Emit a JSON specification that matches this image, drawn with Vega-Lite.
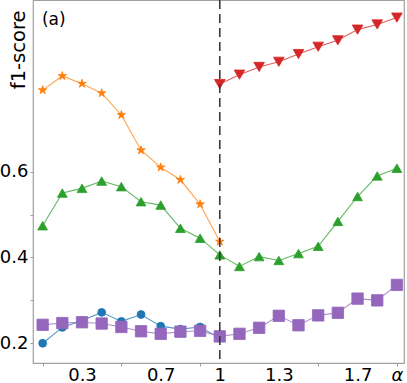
{
  "$schema": "https://vega.github.io/schema/vega-lite/v6.json",
  "width": 371,
  "height": 363,
  "autosize": {"type": "none"},
  "padding": {"left": 33, "top": 0, "right": 3, "bottom": 20},
  "config": {"view": {"stroke": "#a0a0a0", "strokeWidth": 1.2}, "font": "DejaVu Sans"},
  "datasets": {
    "main": [
      {"s": "s1", "a": 0.1, "f": 0.200}, {"s": "s1", "a": 0.2, "f": 0.237}, {"s": "s1", "a": 0.3, "f": 0.253}, {"s": "s1", "a": 0.4, "f": 0.272}, {"s": "s1", "a": 0.5, "f": 0.251},
      {"s": "s1", "a": 0.6, "f": 0.267}, {"s": "s1", "a": 0.7, "f": 0.240}, {"s": "s1", "a": 0.8, "f": 0.233}, {"s": "s1", "a": 0.9, "f": 0.238}, {"s": "s1", "a": 1.0, "f": 0.212},
      {"s": "s2", "a": 0.1, "f": 0.790}, {"s": "s2", "a": 0.2, "f": 0.823}, {"s": "s2", "a": 0.3, "f": 0.805}, {"s": "s2", "a": 0.4, "f": 0.783}, {"s": "s2", "a": 0.5, "f": 0.732},
      {"s": "s2", "a": 0.6, "f": 0.650}, {"s": "s2", "a": 0.7, "f": 0.610}, {"s": "s2", "a": 0.8, "f": 0.581}, {"s": "s2", "a": 0.9, "f": 0.524}, {"s": "s2", "a": 1.0, "f": 0.437},
      {"s": "s3", "a": 0.1, "f": 0.474}, {"s": "s3", "a": 0.2, "f": 0.550}, {"s": "s3", "a": 0.3, "f": 0.561}, {"s": "s3", "a": 0.4, "f": 0.578}, {"s": "s3", "a": 0.5, "f": 0.565},
      {"s": "s3", "a": 0.6, "f": 0.530}, {"s": "s3", "a": 0.7, "f": 0.522}, {"s": "s3", "a": 0.8, "f": 0.468}, {"s": "s3", "a": 0.9, "f": 0.445}, {"s": "s3", "a": 1.0, "f": 0.406},
      {"s": "s3", "a": 1.1, "f": 0.379}, {"s": "s3", "a": 1.2, "f": 0.402}, {"s": "s3", "a": 1.3, "f": 0.393}, {"s": "s3", "a": 1.4, "f": 0.409}, {"s": "s3", "a": 1.5, "f": 0.426},
      {"s": "s3", "a": 1.6, "f": 0.484}, {"s": "s3", "a": 1.7, "f": 0.542}, {"s": "s3", "a": 1.8, "f": 0.590}, {"s": "s3", "a": 1.9, "f": 0.608},
      {"s": "s4", "a": 1.0, "f": 0.804}, {"s": "s4", "a": 1.1, "f": 0.826}, {"s": "s4", "a": 1.2, "f": 0.844}, {"s": "s4", "a": 1.3, "f": 0.856}, {"s": "s4", "a": 1.4, "f": 0.874},
      {"s": "s4", "a": 1.5, "f": 0.891}, {"s": "s4", "a": 1.6, "f": 0.906}, {"s": "s4", "a": 1.7, "f": 0.931}, {"s": "s4", "a": 1.8, "f": 0.943}, {"s": "s4", "a": 1.9, "f": 0.959},
      {"s": "s5", "a": 0.1, "f": 0.243}, {"s": "s5", "a": 0.2, "f": 0.247}, {"s": "s5", "a": 0.3, "f": 0.249}, {"s": "s5", "a": 0.4, "f": 0.246}, {"s": "s5", "a": 0.5, "f": 0.238},
      {"s": "s5", "a": 0.6, "f": 0.228}, {"s": "s5", "a": 0.7, "f": 0.222}, {"s": "s5", "a": 0.8, "f": 0.227}, {"s": "s5", "a": 0.9, "f": 0.229}, {"s": "s5", "a": 1.0, "f": 0.216},
      {"s": "s5", "a": 1.1, "f": 0.222}, {"s": "s5", "a": 1.2, "f": 0.236}, {"s": "s5", "a": 1.3, "f": 0.264}, {"s": "s5", "a": 1.4, "f": 0.242}, {"s": "s5", "a": 1.5, "f": 0.265},
      {"s": "s5", "a": 1.6, "f": 0.271}, {"s": "s5", "a": 1.7, "f": 0.304}, {"s": "s5", "a": 1.8, "f": 0.300}, {"s": "s5", "a": 1.9, "f": 0.336}
    ]
  },
  "layer": [
    {
      "data": {"name": "main"},
      "mark": {"type": "line", "strokeWidth": 1.1, "opacity": 0.75},
      "encoding": {
        "x": {
          "field": "a", "type": "quantitative",
          "scale": {"domain": [0.051, 1.936], "nice": false, "zero": false},
          "axis": {
            "values": [0.1, 0.3, 0.5, 0.7, 0.9, 1, 1.3, 1.5, 1.7, 1.9],
            "labelExpr": "datum.value == 0.3 ? '0.3' : datum.value == 0.7 ? '0.7' : datum.value == 1 ? '1' : datum.value == 1.3 ? '1.3' : datum.value == 1.7 ? '1.7' : datum.value == 1.9 ? 'α' : ''",
            "title": null, "grid": false, "domain": false,
            "tickSize": 3, "tickColor": "#a0a0a0",
            "tickOpacity": {"condition": {"test": "datum.value == 0.3 || datum.value == 0.7 || datum.value == 1 || datum.value == 1.3 || datum.value == 1.7", "value": 0}, "value": 1},
            "labelFontSize": 18, "labelColor": "black", "labelPadding": 14, "labelBaseline": "alphabetic",
            "labelFontStyle": {"condition": {"test": "datum.value > 1.85", "value": "italic"}, "value": "normal"},
            "labelFlush": false, "labelOverlap": false
          }
        },
        "y": {
          "field": "f", "type": "quantitative",
          "scale": {"domain": [0.154, 1.0], "nice": false, "zero": false},
          "axis": {
            "values": [0.2, 0.3, 0.4, 0.5, 0.6],
            "labelExpr": "datum.value == 0.3 || datum.value == 0.5 ? '' : format(datum.value, '.1f')",
            "grid": false, "domain": false,
            "tickSize": 3, "tickColor": "#a0a0a0",
            "labelFontSize": 18, "labelColor": "black", "labelPadding": 2,
            "title": "f1-score", "titleFontSize": 19.5, "titleFontWeight": "normal", "titleColor": "black",
            "titleAnchor": "end", "titleAlign": "right", "titleBaseline": "alphabetic", "titleAngle": -90,
            "titleX": -9, "titleY": 10
          }
        },
        "color": {
          "field": "s", "type": "nominal", "legend": null,
          "scale": {"domain": ["s1", "s2", "s3", "s4", "s5"], "range": ["#1f77b4", "#ff7f0e", "#2ca02c", "#d62728", "#9467bd"]}
        }
      }
    },
    {
      "data": {"name": "main"},
      "mark": {"type": "point", "filled": true, "opacity": 1, "strokeWidth": 1, "strokeOpacity": 0.8},
      "encoding": {
        "x": {"field": "a", "type": "quantitative"},
        "y": {"field": "f", "type": "quantitative"},
        "color": {"field": "s", "type": "nominal", "legend": null},
        "stroke": {
          "field": "s", "type": "nominal", "legend": null,
          "scale": {"domain": ["s1", "s2", "s3", "s4", "s5"], "range": ["#1f77b4", "#ff7f0e", "#2ca02c", "#d62728", "#9467bd"]}
        },
        "shape": {
          "field": "s", "type": "nominal", "legend": null,
          "scale": {"domain": ["s1", "s2", "s3", "s4", "s5"], "range": ["circle", "M0,-1L0.2245,-0.309L0.951,-0.309L0.363,0.118L0.588,0.809L0,0.382L-0.588,0.809L-0.363,0.118L-0.951,-0.309L-0.2245,-0.309Z", "triangle-up", "triangle-down", "square"]}
        },
        "size": {
          "field": "s", "type": "nominal", "legend": null,
          "scale": {"domain": ["s1", "s2", "s3", "s4", "s5"], "range": [62, 130, 88, 88, 54]}
        }
      }
    },
    {
      "data": {"values": [{"label": "(a)"}]},
      "mark": {"type": "text", "align": "left", "baseline": "alphabetic", "fontSize": 17, "color": "black"},
      "encoding": {
        "x": {"datum": 0.0965},
        "y": {"datum": 0.942},
        "text": {"field": "label"}
      }
    },
    {
      "data": {"values": [{"a": 1}]},
      "mark": {"type": "rule", "strokeDash": [9, 5], "color": "#3a3a3a", "strokeWidth": 1.6},
      "encoding": {"x": {"field": "a", "type": "quantitative"}}
    }
  ]
}
